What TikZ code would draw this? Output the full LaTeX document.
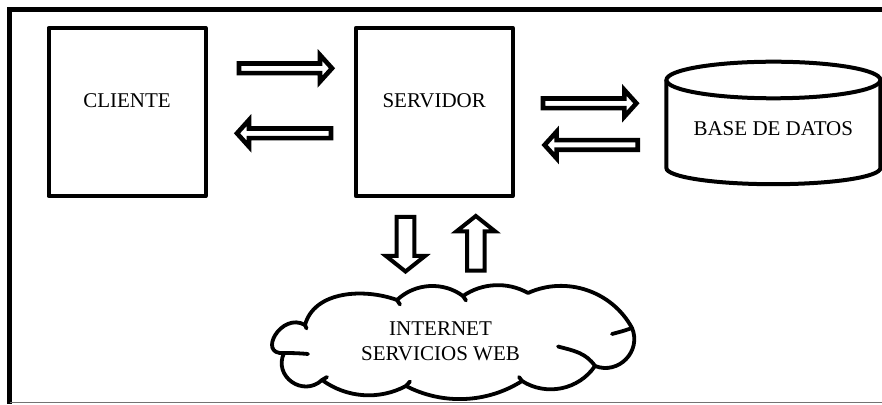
\documentclass[tikz,border=0pt]{standalone}
\usepackage{fontspec}
\setmainfont{Liberation Serif}
\usetikzlibrary{calc}
\begin{document}
\begin{tikzpicture}[x=1pt,y=1pt,
  lbl/.style={font=\fontsize{21}{25}\selectfont, inner sep=0pt, anchor=base},
  box/.style={draw, line width=4pt, line join=round, minimum width=157pt, minimum height=168pt, inner sep=0pt},
  frameline/.style={line width=4.7pt},
  dbline/.style={line width=4pt},
  cloudline/.style={line width=3.8pt, line cap=round, line join=round},
  barrow/.style n args={4}{draw, fill=white, line width=#4, line join=miter,
    to path={($(\tikztostart)!#1pt!90:(\tikztotarget)$)
      -- ($(\tikztotarget)!#3pt!(\tikztostart)!#1pt!90:(\tikztotarget)$)
      -- ($(\tikztotarget)!#3pt!(\tikztostart)!#2pt!90:(\tikztotarget)$)
      -- (\tikztotarget)
      -- ($(\tikztotarget)!#3pt!(\tikztostart)!#2pt!-90:(\tikztotarget)$)
      -- ($(\tikztotarget)!#3pt!(\tikztostart)!#1pt!-90:(\tikztotarget)$)
      -- ($(\tikztostart)!#1pt!-90:(\tikztotarget)$) -- cycle}},
  harrow/.style={barrow={4.8}{13.3}{12}{4.6pt}},
  varrow/.style={barrow={8.8}{19.5}{15.5}{4pt}}
]
\useasboundingbox (0,0) rectangle (882,404);

% frame
\coordinate (fr1) at (884,394.3);
\coordinate (fr2) at (9.7,394.3);
\coordinate (fr3) at (9.7,0.5);
\coordinate (fr4) at (884,1.3);
\draw[frameline] (fr1) -- (fr2) -- (fr3);
\draw[line width=1.5pt, black!55] (fr2 |- fr4) -- (fr4);

% boxes
\node[box] (cliente) at (127,292) {};
\node[box] (servidor) at (434.2,292) {};
\node[lbl] (tcliente) at (127,296.7) {CLIENTE};
\node[lbl] (tservidor) at (434.2,296.7) {SERVIDOR};

% database cylinder
\coordinate (db) at (773.4,324);
\draw[dbline] (db) ellipse [x radius=107, y radius=18.3];
\draw[dbline] (666.4,324) -- (666.4,236)
  arc[start angle=180, end angle=360, x radius=107, y radius=16.2] -- (880.4,324);
\node[lbl] (tbd) at (773.3,268) {BASE DE DATOS};

% horizontal block arrows
\coordinate (a1s) at (239,335.7);   \coordinate (a1e) at (332,335.7);
\coordinate (a2s) at (331,270.7);   \coordinate (a2e) at (237,270.7);
\coordinate (a3s) at (543,300.7);   \coordinate (a3e) at (636.4,300.7);
\coordinate (a4s) at (637.7,259);   \coordinate (a4e) at (544.6,259);
\draw[harrow] (a1s) to (a1e);
\draw[harrow] (a2s) to (a2e);
\draw[harrow] (a3s) to (a3e);
\draw[harrow] (a4s) to (a4e);

% vertical block arrows
\coordinate (a5s) at (405.5,187);   \coordinate (a5e) at (405.5,132.5);
\coordinate (a6s) at (475.8,133.3); \coordinate (a6e) at (475.8,188);
\draw[varrow] (a5s) to (a5e);
\draw[varrow] (a6s) to (a6e);

% cloud
\coordinate (c0) at (284,51);
\coordinate (c1) at (305,79);
\coordinate (c2) at (397,104);
\coordinate (c3) at (463,108);
\coordinate (c4) at (528,111);
\coordinate (c5) at (632,76);
\coordinate (c6) at (595,38);
\coordinate (c7) at (522,23);
\coordinate (c8) at (406,18);
\coordinate (c9) at (322,24);
\draw[cloudline] (c0) to[out=185,in=150,looseness=2] (c1)
  to[out=75,in=160,looseness=0.95] (c2)
  to[out=43.5,in=143.5,looseness=0.96] (c3)
  to[out=34.6,in=150.6,looseness=0.92] (c4)
  to[out=24.4,in=118.4,looseness=0.98] (c5)
  to[out=-67.2,in=-21.2,looseness=1.22] (c6)
  to[out=-124.4,in=-32.4,looseness=0.99] (c7)
  to[out=-147.5,in=-27.5,looseness=0.91] (c8)
  to[out=-152.1,in=-36.1,looseness=0.93] (c9)
  to[out=222.9,in=244.9,looseness=1.42] (c0);
% inner strokes of the cloud
\coordinate (k0) at (308,50);
\coordinate (k5) at (612,70);
\coordinate (k6) at (558,57.5);
\draw[cloudline] (c0) to[out=0,in=175] (k0);
\draw[cloudline] (c5) to[out=200,in=15] (k5);
\draw[cloudline] (c6) to[out=125,in=-15] (k6);
\coordinate (t1) at (306.5,75.5);
\coordinate (t2) at (400,99.5);
\coordinate (t3) at (466,103.5);
\coordinate (t7) at (519,27);
\coordinate (t8) at (410,22.5);
\coordinate (t9) at (327,27);
\draw[cloudline] (c1) -- (t1);
\draw[cloudline] (c2) -- (t2);
\draw[cloudline] (c3) -- (t3);
\draw[cloudline] (c7) -- (t7);
\draw[cloudline] (c8) -- (t8);
\draw[cloudline] (c9) -- (t9);
\node[lbl] (internet) at (440.5,69) {INTERNET};
\node[lbl] (servicios) at (440.5,43.3) {SERVICIOS WEB};
\end{tikzpicture}
\end{document}
